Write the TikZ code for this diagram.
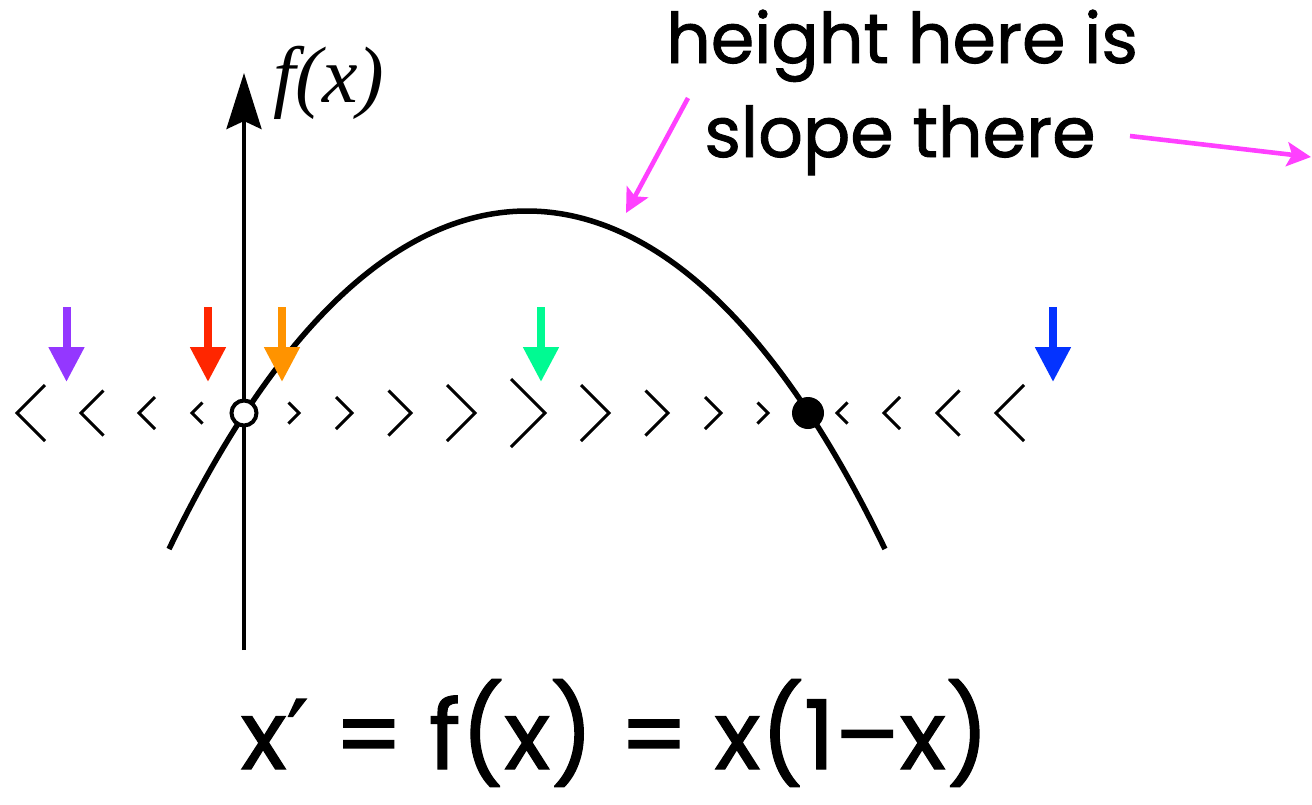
\documentclass[tikz,border=0pt]{standalone}
\usepackage{fontspec}
\setmainfont{Poppins}[FakeBold=1.3]
\newfontfamily\serifit{Liberation Serif}
\newfontfamily\dvs{DejaVu Sans}[FakeBold=1.3]
\usetikzlibrary{arrows.meta}
\definecolor{kpurple}{RGB}{148,55,255}
\definecolor{kred}{RGB}{255,38,0}
\definecolor{korange}{RGB}{255,147,0}
\definecolor{kgreen}{RGB}{0,250,146}
\definecolor{kblue}{RGB}{4,51,255}
\definecolor{kmag}{RGB}{255,64,255}
\tikzset{
  chev/.style={line width=1.5pt, line join=miter},
  curveline/.style={line width=2.75pt},
  axisline/.style={line width=2pt, -{Stealth[length=28pt,width=17.5pt,inset=4pt]}},
  flowarrow/.style={line width=4pt, -{Triangle[length=17.5pt,width=17pt]}},
  callout/.style={kmag, line width=2.3pt, -{Stealth[length=12pt,width=12pt,inset=2.5pt]}},
  opendot/.style={circle, draw=black, fill=white, line width=2pt, minimum size=12.5pt, inner sep=0pt},
  fulldot/.style={circle, fill=black, minimum size=16pt, inner sep=0pt},
  comic/.style={font=\fontsize{35pt}{40pt}\selectfont, inner sep=0pt},
}
\begin{document}
\begin{tikzpicture}[x=0.5pt,y=-0.5pt]
\useasboundingbox (0,0) rectangle (1312,804);
% axis
\coordinate (axbot) at (244,650);
\coordinate (axtop) at (244,73);
\draw[axisline] (axbot) -- (axtop);
\node[font=\serifit\itshape\fontsize{40pt}{42pt}\selectfont, anchor=base, inner sep=0pt] (fx) at (329,102) {f(x)};
% curve
\draw[curveline] plot[domain=-3.58:3.58, samples=120, variable=\t] ({527+100*\t},{211+23.81*\t*\t+0.2*\t*\t*\t*\t});
% chevrons: tip x, height, direction (+1 = pointing left, -1 = pointing right)
\foreach \tx/\h/\d in {17/56/1,81/45/1,139/32/1,192/21/1,
  299/21/-1,352/32/-1,411/45/-1,475/56/-1,545/68/-1,609/56/-1,668/45/-1,721/32/-1,768/21/-1,
  837/21/1,884/32/1,937/45/1,996/56/1}
  \draw[chev] ({\tx+\d*\h/2},{413-\h/2}) -- (\tx,413) -- ({\tx+\d*\h/2},{413+\h/2});
% fixed points
\node[opendot] (fp0) at (244,413) {};
\node[fulldot] (fp1) at (808,413) {};
% coloured arrows
\foreach \nm/\xx/\col in {pu/66.5/kpurple, re/208/kred, or/282/korange, gr/541/kgreen, bl/1053/kblue}{
  \coordinate (\nm top) at (\xx,307);
  \coordinate (\nm tip) at (\xx,382);
  \draw[flowarrow, \col] (\nm top) -- (\nm tip);
}
% text
\node[comic, anchor=base] (t1) at (902,63) {height here is};
\node[comic, anchor=base] (t2) at (900,157) {slope there};
\coordinate (c1s) at (688,98);
\coordinate (c1e) at (626,213);
\coordinate (c2s) at (1130,136);
\coordinate (c2e) at (1311,157);
\draw[callout] (c1s) -- (c1e);
\draw[callout] (c2s) -- (c2e);
% equation
\node[font=\fontsize{48pt}{50pt}\selectfont, anchor=base, inner sep=0pt] (eq) at (615,769) {x{\dvs ′} = f(x) = x(1–x)};
\end{tikzpicture}
\end{document}
